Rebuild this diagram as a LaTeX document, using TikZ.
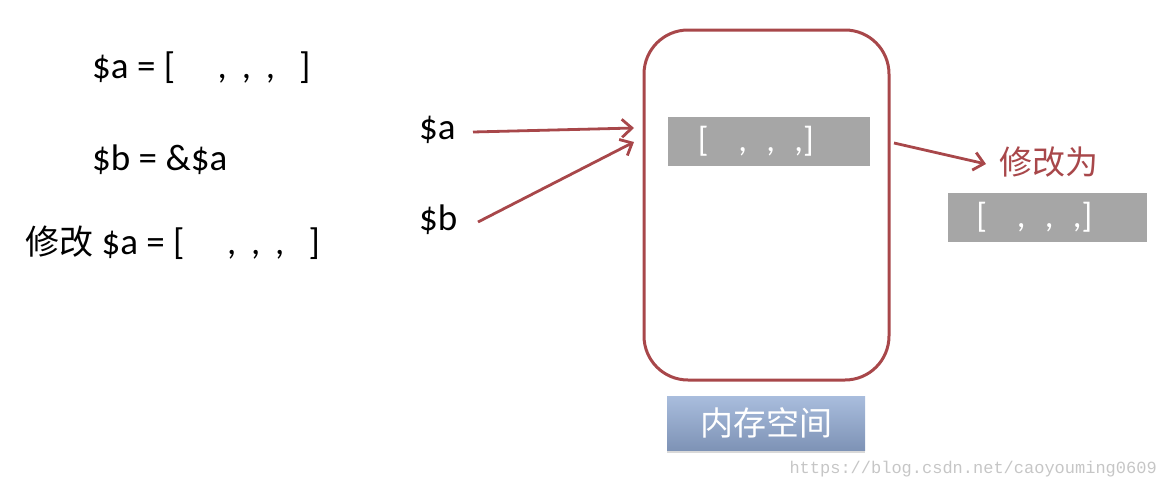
\documentclass[tikz,border=0pt]{standalone}
\usepackage{fontspec}
\setmainfont{Carlito}
\newfontfamily\cjk{Noto Sans CJK SC}
\newfontfamily\mono{Liberation Mono}
\usetikzlibrary{arrows.meta, shadows}

\definecolor{memred}{HTML}{A8474A}
\definecolor{cellgray}{HTML}{A6A6A6}
\definecolor{memtop}{HTML}{A9BDDD}
\definecolor{membot}{HTML}{7E93B6}

\newcommand{\emptylist}{[\hspace{0.85em},\hspace{0.55em},\hspace{0.55em},]\kern0.75em\relax}

\begin{document}
\begin{tikzpicture}[x=1pt, y=-1pt,
  code/.style={anchor=west, inner sep=0pt, font=\fontsize{37}{40}\selectfont},
  cell/.style={fill=cellgray, text=white, minimum width=202pt, minimum height=49pt,
               inner sep=0pt, font=\fontsize{35}{37}\selectfont},
  link/.style={memred, line width=2.8pt, -{Straight Barb[length=10pt, width=18pt]}}]
  \useasboundingbox (0,0) rectangle (1168,490);

  % code on the left
  \node[code] (line1) at (92,68) {\$a = [\hspace{1.15em},\hspace{0.4em},\hspace{0.4em},\hspace{0.65em}]};
  \node[code] (line2) at (92,160) {\$b = \&\$a};
  \node[code] (line3) at (25,243) {{\cjk\fontsize{34}{36}\selectfont 修改} \$a = [\hspace{1.15em},\hspace{0.4em},\hspace{0.4em},\hspace{0.65em}]};

  % variables
  \node[code] (va) at (419,130) {\$a};
  \node[code] (vb) at (419,220) {\$b};

  % memory block
  \draw[memred, line width=3pt, rounded corners=44pt] (644,30) rectangle (889,380);
  \node[cell] (old) at (769,141) {\emptylist};
  \coordinate (ina) at (634,128);
  \coordinate (inb) at (634,142);
  \coordinate (out) at (894,143);

  \draw[link] (473,132) -- (ina);
  \draw[link] (478,222) -- (inb);

  % new value
  \node[anchor=west, inner sep=0pt, text=memred, font=\cjk\fontsize{33}{35}\selectfont]
    (label) at (999,162) {修改为};
  \draw[link] (out) -- ([xshift=-13pt, yshift=-2pt]label.west);
  \node[cell, minimum width=199pt] (new) at (1047.5,217.5) {\emptylist};

  \node[top color=memtop, bottom color=membot, text=white,
        minimum width=198pt, minimum height=54pt, inner sep=0pt,
        drop shadow={opacity=0.3, shadow xshift=0pt, shadow yshift=-3pt},
        font=\cjk\fontsize{33}{35}\selectfont] (mem) at (766,423) {内存空间};

  \node[anchor=east, inner sep=0pt, text=gray!45, font=\mono\fontsize{17}{18}\selectfont]
    (mark) at (1157,469) {https://blog.csdn.net/caoyouming0609};
\end{tikzpicture}
\end{document}
